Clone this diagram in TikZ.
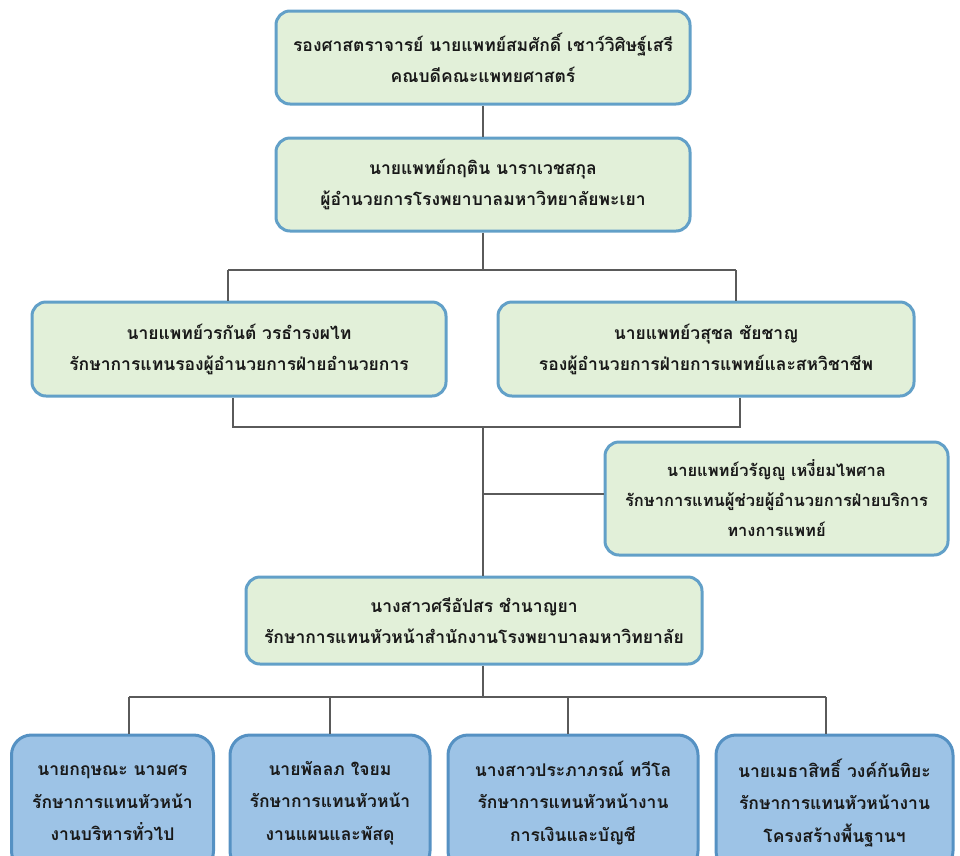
\documentclass[tikz,border=0pt]{standalone}
\usepackage{fontspec}
\newfontfamily\thaifont[Script=Thai]{Loma}
\definecolor{gfill}{RGB}{226,240,217}
\definecolor{bfill}{RGB}{157,195,230}
\definecolor{bord}{RGB}{98,160,200}
\definecolor{bord2}{RGB}{85,145,195}
\definecolor{lin}{RGB}{90,90,90}
\definecolor{txt}{RGB}{25,25,25}
\tikzset{
  gbox/.style={draw=bord, line width=3pt, fill=gfill, rounded corners=14pt, align=center,
    text=txt, font=\thaifont\bfseries\fontsize{17.5}{31}\selectfont, inner sep=0pt},
  bbox/.style={draw=bord2, line width=3pt, fill=bfill, rounded corners=20pt, align=center,
    text=txt, font=\thaifont\bfseries\fontsize{17.5}{32.5}\selectfont, inner sep=0pt},
  conn/.style={draw=lin, line width=1.3pt}
}
\begin{document}
\begin{tikzpicture}[x=1pt,y=-1pt]
\useasboundingbox (0,0) rectangle (960,855);
% boxes
\node[gbox, minimum width=414pt, minimum height=93pt] (dean) at (483,57.5)
  {รองศาสตราจารย์ นายแพทย์สมศักดิ์ เชาว์วิศิษฐ์เสรี\\คณบดีคณะแพทยศาสตร์};
\node[gbox, minimum width=414pt, minimum height=93pt] (dir) at (483,184.5)
  {นายแพทย์กฤติน นาราเวชสกุล\\ผู้อำนวยการโรงพยาบาลมหาวิทยาลัยพะเยา};
\node[gbox, minimum width=414pt, minimum height=94pt] (lm) at (239,349)
  {นายแพทย์วรกันต์ วรธำรงผไท\\รักษาการแทนรองผู้อำนวยการฝ่ายอำนวยการ};
\node[gbox, minimum width=416pt, minimum height=94pt] (rm) at (706,349)
  {นายแพทย์วสุชล ชัยชาญ\\รองผู้อำนวยการฝ่ายการแพทย์และสหวิชาชีพ};
\node[gbox, minimum width=343pt, minimum height=113pt, font=\thaifont\bfseries\fontsize{16.5}{30}\selectfont] (asst) at (776.5,498.5)
  {นายแพทย์วรัญญู เหงี่ยมไพศาล\\รักษาการแทนผู้ช่วยผู้อำนวยการฝ่ายบริการ\\ทางการแพทย์};
\node[gbox, minimum width=456pt, minimum height=87pt] (off) at (474,620.5)
  {นางสาวศรีอัปสร ชำนาญยา\\รักษาการแทนหัวหน้าสำนักงานโรงพยาบาลมหาวิทยาลัย};
\node[bbox, minimum width=202pt, minimum height=136pt] (b1) at (112.5,803)
  {นายกฤษณะ นามศร\\รักษาการแทนหัวหน้า\\งานบริหารทั่วไป};
\node[bbox, minimum width=200pt, minimum height=136pt] (b2) at (330,803)
  {นายพัลลภ ใจยม\\รักษาการแทนหัวหน้า\\งานแผนและพัสดุ};
\node[bbox, minimum width=250pt, minimum height=136pt] (b3) at (573,803)
  {นางสาวประภาภรณ์ ทวีโล\\รักษาการแทนหัวหน้างาน\\การเงินและบัญชี};
\node[bbox, minimum width=237pt, minimum height=136pt] (b4) at (834.5,803)
  {นายเมธาสิทธิ์ วงค์กันทิยะ\\รักษาการแทนหัวหน้างาน\\โครงสร้างพื้นฐานฯ};
% junction coordinates
\coordinate (t1) at (483,270);
\coordinate (hL) at (228,270);
\coordinate (hR) at (736,270);
\coordinate (uL) at (233,427);
\coordinate (uR) at (740,427);
\coordinate (uC) at (483,427);
\coordinate (aJ) at (483,494);
\coordinate (bJ) at (483,697);
\coordinate (d1) at (129,697);
\coordinate (d2) at (330,697);
\coordinate (d3) at (568,697);
\coordinate (d4) at (826,697);
% connectors
\draw[conn] (dean.south) -- (dir.north);
\draw[conn] (dir.south) -- (t1);
\draw[conn] (hL) -- (hR);
\draw[conn] (hL) -- (hL |- lm.north);
\draw[conn] (hR) -- (hR |- rm.north);
\draw[conn] (uL |- lm.south) -- (uL) -- (uR) -- (uR |- rm.south);
\draw[conn] (uC) -- (uC |- off.north);
\draw[conn] (aJ) -- (aJ -| asst.west);
\draw[conn] (bJ |- off.south) -- (bJ);
\draw[conn] (d1) -- (d4);
\draw[conn] (d1) -- (d1 |- b1.north);
\draw[conn] (d2) -- (d2 |- b2.north);
\draw[conn] (d3) -- (d3 |- b3.north);
\draw[conn] (d4) -- (d4 |- b4.north);
\end{tikzpicture}
\end{document}
